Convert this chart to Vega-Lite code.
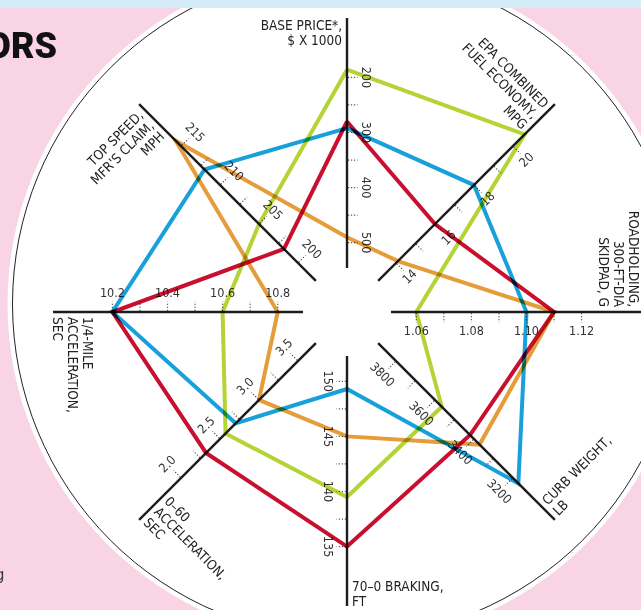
{
  "$schema": "https://vega.github.io/schema/vega-lite/v6.json",
  "width": 641,
  "height": 610,
  "autosize": "none",
  "padding": 0,
  "background": "#F8D4E4",
  "config": {"view": {"stroke": null}},
  "datasets": {
    "axes": [
      {"axis": "price", "idx": 0, "a": 500, "b": 200, "title": "BASE PRICE*,\n$ X 1000"},
      {"axis": "mpg", "idx": 1, "a": 14, "b": 20, "title": "EPA COMBINED\nFUEL ECONOMY,\nMPG"},
      {"axis": "skidpad", "idx": 2, "a": 1.06, "b": 1.12, "title": "ROADHOLDING,\n300-FT-DIA\nSKIDPAD, G"},
      {"axis": "weight", "idx": 3, "a": 3800, "b": 3200, "title": "CURB WEIGHT,\nLB"},
      {"axis": "braking", "idx": 4, "a": 150, "b": 135, "title": "70–0 BRAKING,\nFT"},
      {"axis": "zero60", "idx": 5, "a": 3.5, "b": 2.0, "title": "0–60\nACCELERATION,\nSEC"},
      {"axis": "quarter", "idx": 6, "a": 10.8, "b": 10.2, "title": "1/4-MILE\nACCELERATION,\nSEC"},
      {"axis": "topspeed", "idx": 7, "a": 200, "b": 215, "title": "TOP SPEED,\nMFR'S CLAIM,\nMPH"}
    ],
    "ticks": [
      {"axis": "price", "v": 500, "label": "500"}, {"axis": "price", "v": 450, "label": ""}, {"axis": "price", "v": 400, "label": "400"}, {"axis": "price", "v": 350, "label": ""}, {"axis": "price", "v": 300, "label": "300"}, {"axis": "price", "v": 250, "label": ""}, {"axis": "price", "v": 200, "label": "200"},
      {"axis": "mpg", "v": 14, "label": "14"}, {"axis": "mpg", "v": 15, "label": ""}, {"axis": "mpg", "v": 16, "label": "16"}, {"axis": "mpg", "v": 17, "label": ""}, {"axis": "mpg", "v": 18, "label": "18"}, {"axis": "mpg", "v": 19, "label": ""}, {"axis": "mpg", "v": 20, "label": "20"},
      {"axis": "skidpad", "v": 1.06, "label": "1.06"}, {"axis": "skidpad", "v": 1.07, "label": ""}, {"axis": "skidpad", "v": 1.08, "label": "1.08"}, {"axis": "skidpad", "v": 1.09, "label": ""}, {"axis": "skidpad", "v": 1.10, "label": "1.10"}, {"axis": "skidpad", "v": 1.11, "label": ""}, {"axis": "skidpad", "v": 1.12, "label": "1.12"},
      {"axis": "weight", "v": 3800, "label": "3800"}, {"axis": "weight", "v": 3700, "label": ""}, {"axis": "weight", "v": 3600, "label": "3600"}, {"axis": "weight", "v": 3500, "label": ""}, {"axis": "weight", "v": 3400, "label": "3400"}, {"axis": "weight", "v": 3300, "label": ""}, {"axis": "weight", "v": 3200, "label": "3200"},
      {"axis": "braking", "v": 150, "label": "150"}, {"axis": "braking", "v": 147.5, "label": ""}, {"axis": "braking", "v": 145, "label": "145"}, {"axis": "braking", "v": 142.5, "label": ""}, {"axis": "braking", "v": 140, "label": "140"}, {"axis": "braking", "v": 137.5, "label": ""}, {"axis": "braking", "v": 135, "label": "135"},
      {"axis": "zero60", "v": 3.5, "label": "3.5"}, {"axis": "zero60", "v": 3.25, "label": ""}, {"axis": "zero60", "v": 3.0, "label": "3.0"}, {"axis": "zero60", "v": 2.75, "label": ""}, {"axis": "zero60", "v": 2.5, "label": "2.5"}, {"axis": "zero60", "v": 2.25, "label": ""}, {"axis": "zero60", "v": 2.0, "label": "2.0"},
      {"axis": "quarter", "v": 10.8, "label": "10.8"}, {"axis": "quarter", "v": 10.7, "label": ""}, {"axis": "quarter", "v": 10.6, "label": "10.6"}, {"axis": "quarter", "v": 10.5, "label": ""}, {"axis": "quarter", "v": 10.4, "label": "10.4"}, {"axis": "quarter", "v": 10.3, "label": ""}, {"axis": "quarter", "v": 10.2, "label": "10.2"},
      {"axis": "topspeed", "v": 200, "label": "200"}, {"axis": "topspeed", "v": 202.5, "label": ""}, {"axis": "topspeed", "v": 205, "label": "205"}, {"axis": "topspeed", "v": 207.5, "label": ""}, {"axis": "topspeed", "v": 210, "label": "210"}, {"axis": "topspeed", "v": 212.5, "label": ""}, {"axis": "topspeed", "v": 215, "label": "215"}
    ],
    "cars": [
      {"car": "Car A", "axis": "price", "value": 186}, {"car": "Car A", "axis": "mpg", "value": 20.6}, {"car": "Car A", "axis": "skidpad", "value": 1.06}, {"car": "Car A", "axis": "weight", "value": 3565}, {"car": "Car A", "axis": "braking", "value": 139.5}, {"car": "Car A", "axis": "zero60", "value": 2.57}, {"car": "Car A", "axis": "quarter", "value": 10.6}, {"car": "Car A", "axis": "topspeed", "value": 205},
      {"car": "Car B", "axis": "price", "value": 292}, {"car": "Car B", "axis": "mpg", "value": 18.0}, {"car": "Car B", "axis": "skidpad", "value": 1.10}, {"car": "Car B", "axis": "weight", "value": 3172}, {"car": "Car B", "axis": "braking", "value": 149.3}, {"car": "Car B", "axis": "zero60", "value": 2.70}, {"car": "Car B", "axis": "quarter", "value": 10.2}, {"car": "Car B", "axis": "topspeed", "value": 212},
      {"car": "Car C", "axis": "price", "value": 490}, {"car": "Car C", "axis": "mpg", "value": 14.1}, {"car": "Car C", "axis": "skidpad", "value": 1.11}, {"car": "Car C", "axis": "weight", "value": 3371}, {"car": "Car C", "axis": "braking", "value": 145}, {"car": "Car C", "axis": "zero60", "value": 3.0}, {"car": "Car C", "axis": "quarter", "value": 10.8}, {"car": "Car C", "axis": "topspeed", "value": 215.7},
      {"car": "Car D", "axis": "price", "value": 280}, {"car": "Car D", "axis": "mpg", "value": 16.0}, {"car": "Car D", "axis": "skidpad", "value": 1.11}, {"car": "Car D", "axis": "weight", "value": 3420}, {"car": "Car D", "axis": "braking", "value": 135}, {"car": "Car D", "axis": "zero60", "value": 2.32}, {"car": "Car D", "axis": "quarter", "value": 10.2}, {"car": "Car D", "axis": "topspeed", "value": 201.8}
    ]
  },
  "layer": [
    {
      "data": {"values": [{}]},
      "mark": {"type": "point", "shape": "circle", "filled": true, "color": "white", "opacity": 1, "size": 459684},
      "encoding": {
        "x": {"datum": -0.0017, "type": "quantitative", "scale": {"domain": [-1.18027, 1.0], "nice": false, "zero": false}, "axis": null},
        "y": {"datum": 0.0272, "type": "quantitative", "scale": {"domain": [-1.01361, 1.06122], "nice": false, "zero": false}, "axis": null}
      }
    },
    {
      "data": {"values": [{}]},
      "mark": {"type": "point", "shape": "circle", "filled": false, "stroke": "#222222", "strokeWidth": 1, "opacity": 1, "size": 446224},
      "encoding": {
        "x": {"datum": -0.0017, "type": "quantitative", "scale": {"domain": [-1.18027, 1.0], "nice": false, "zero": false}, "axis": null},
        "y": {"datum": 0.0272, "type": "quantitative", "scale": {"domain": [-1.01361, 1.06122], "nice": false, "zero": false}, "axis": null}
      }
    },
    {
      "data": {"name": "axes"},
      "transform": [
        {"calculate": "datum.idx*PI/4", "as": "th"},
        {"calculate": "0.1497*sin(datum.th)", "as": "x"},
        {"calculate": "0.1497*cos(datum.th)", "as": "y"},
        {"calculate": "sin(datum.th)", "as": "xe"},
        {"calculate": "cos(datum.th)", "as": "ye"}
      ],
      "mark": {"type": "rule", "color": "#1c1c1c", "strokeWidth": 2.4},
      "encoding": {
        "x": {"field": "x", "type": "quantitative", "scale": {"domain": [-1.18027, 1.0], "nice": false, "zero": false}, "axis": null},
        "y": {"field": "y", "type": "quantitative", "scale": {"domain": [-1.01361, 1.06122], "nice": false, "zero": false}, "axis": null},
        "x2": {"field": "xe"},
        "y2": {"field": "ye"}
      }
    },
    {
      "data": {"name": "ticks"},
      "transform": [
        {"lookup": "axis", "from": {"data": {"name": "axes"}, "key": "axis", "fields": ["idx", "a", "b"]}},
        {"calculate": "0.2357 + 0.5622*(datum.v - datum.a)/(datum.b - datum.a)", "as": "r"},
        {"calculate": "datum.idx*PI/4", "as": "th"},
        {"calculate": "datum.r*sin(datum.th) + 0.004*cos(datum.th)", "as": "x"},
        {"calculate": "datum.r*cos(datum.th) - 0.004*sin(datum.th)", "as": "y"},
        {"calculate": "datum.r*sin(datum.th) + 0.036*cos(datum.th)", "as": "xe"},
        {"calculate": "datum.r*cos(datum.th) - 0.036*sin(datum.th)", "as": "ye"}
      ],
      "mark": {"type": "rule", "color": "#333333", "strokeWidth": 1.2, "strokeDash": [1, 2]},
      "encoding": {
        "x": {"field": "x", "type": "quantitative", "scale": {"domain": [-1.18027, 1.0], "nice": false, "zero": false}, "axis": null},
        "y": {"field": "y", "type": "quantitative", "scale": {"domain": [-1.01361, 1.06122], "nice": false, "zero": false}, "axis": null},
        "x2": {"field": "xe"},
        "y2": {"field": "ye"}
      }
    },
    {
      "data": {"name": "ticks"},
      "transform": [
        {"filter": "datum.label != ''"},
        {"lookup": "axis", "from": {"data": {"name": "axes"}, "key": "axis", "fields": ["idx", "a", "b"]}},
        {"calculate": "0.2357 + 0.5622*(datum.v - datum.a)/(datum.b - datum.a)", "as": "r"},
        {"calculate": "datum.idx*PI/4", "as": "th"},
        {"calculate": "datum.r*sin(datum.th) + 0.0660*cos(datum.th)", "as": "x"},
        {"calculate": "datum.r*cos(datum.th) - 0.0660*sin(datum.th)", "as": "y"},
        {"calculate": "datum.idx*45 + 90", "as": "la"},
        {"calculate": "(datum.la > 90 && datum.la <= 270) ? datum.la - 180 : datum.la", "as": "ang"}
      ],
      "mark": {"type": "text", "align": "center", "baseline": "middle", "fontSize": 12.5, "font": "DejaVu Sans Condensed, sans-serif", "color": "#333333"},
      "encoding": {
        "x": {"field": "x", "type": "quantitative", "scale": {"domain": [-1.18027, 1.0], "nice": false, "zero": false}, "axis": null},
        "y": {"field": "y", "type": "quantitative", "scale": {"domain": [-1.01361, 1.06122], "nice": false, "zero": false}, "axis": null},
        "text": {"field": "label"},
        "angle": {"field": "ang", "type": "quantitative", "scale": null}
      }
    },
    {
      "data": {"name": "axes"},
      "transform": [
        {"filter": "datum.idx == 7 || datum.idx <= 2"},
        {"calculate": "datum.idx*PI/4", "as": "th"},
        {"calculate": "sin(datum.th)", "as": "x"},
        {"calculate": "cos(datum.th)", "as": "y"},
        {"calculate": "(datum.idx*45) % 180 > 90 ? (datum.idx*45) % 180 - 180 : (datum.idx*45) % 180", "as": "ang"}
      ],
      "mark": {"type": "text", "align": "right", "baseline": "top", "dx": -5, "dy": 1, "lineBreak": "\n", "lineHeight": 15, "fontSize": 13.5, "font": "DejaVu Sans Condensed, sans-serif", "color": "#222222"},
      "encoding": {
        "x": {"field": "x", "type": "quantitative", "scale": {"domain": [-1.18027, 1.0], "nice": false, "zero": false}, "axis": null},
        "y": {"field": "y", "type": "quantitative", "scale": {"domain": [-1.01361, 1.06122], "nice": false, "zero": false}, "axis": null},
        "text": {"field": "title"},
        "angle": {"field": "ang", "type": "quantitative", "scale": null}
      }
    },
    {
      "data": {"name": "axes"},
      "transform": [
        {"filter": "datum.idx >= 3 && datum.idx <= 6"},
        {"calculate": "datum.idx*PI/4", "as": "th"},
        {"calculate": "1 - (length(split(datum.title, '\\n')) - 1)*15/294", "as": "r"},
        {"calculate": "datum.r*sin(datum.th)", "as": "x"},
        {"calculate": "datum.r*cos(datum.th)", "as": "y"},
        {"calculate": "(datum.idx*45) % 180 > 90 ? (datum.idx*45) % 180 - 180 : (datum.idx*45) % 180", "as": "ang"}
      ],
      "mark": {"type": "text", "align": "left", "baseline": "bottom", "dx": 5, "dy": 3, "lineBreak": "\n", "lineHeight": 15, "fontSize": 13.5, "font": "DejaVu Sans Condensed, sans-serif", "color": "#222222"},
      "encoding": {
        "x": {"field": "x", "type": "quantitative", "scale": {"domain": [-1.18027, 1.0], "nice": false, "zero": false}, "axis": null},
        "y": {"field": "y", "type": "quantitative", "scale": {"domain": [-1.01361, 1.06122], "nice": false, "zero": false}, "axis": null},
        "text": {"field": "title"},
        "angle": {"field": "ang", "type": "quantitative", "scale": null}
      }
    },
    {
      "data": {"name": "cars"},
      "transform": [
        {"lookup": "axis", "from": {"data": {"name": "axes"}, "key": "axis", "fields": ["idx", "a", "b"]}},
        {"calculate": "datum.idx == 0 ? [0, 8] : [datum.idx]", "as": "k"},
        {"flatten": ["k"]},
        {"calculate": "0.2357 + 0.5622*(datum.value - datum.a)/(datum.b - datum.a)", "as": "r"},
        {"calculate": "datum.k*PI/4", "as": "th"},
        {"calculate": "datum.r*sin(datum.th)", "as": "x"},
        {"calculate": "datum.r*cos(datum.th)", "as": "y"}
      ],
      "mark": {"type": "line", "strokeWidth": 4, "blend": "multiply", "strokeJoin": "miter", "strokeMiterLimit": 10},
      "encoding": {
        "x": {"field": "x", "type": "quantitative", "scale": {"domain": [-1.18027, 1.0], "nice": false, "zero": false}, "axis": null},
        "y": {"field": "y", "type": "quantitative", "scale": {"domain": [-1.01361, 1.06122], "nice": false, "zero": false}, "axis": null},
        "color": {"field": "car", "type": "nominal", "scale": {"domain": ["Car A", "Car B", "Car C", "Car D"], "range": ["#B4D335", "#18A0DB", "#E59C3A", "#C8102E"]}, "legend": null},
        "order": {"field": "k", "type": "quantitative"}
      }
    },
    {
      "data": {"values": [{}]},
      "mark": {"type": "rect", "color": "#D3ECF8"},
      "encoding": {
        "x": {"datum": -1.18027, "type": "quantitative", "scale": {"domain": [-1.18027, 1.0], "nice": false, "zero": false}, "axis": null},
        "x2": {"datum": 1.0},
        "y": {"datum": 1.06122, "type": "quantitative", "scale": {"domain": [-1.01361, 1.06122], "nice": false, "zero": false}, "axis": null},
        "y2": {"datum": 1.0340}
      }
    },
    {
      "data": {"values": [{}]},
      "mark": {"type": "text", "text": "ORS", "align": "right", "baseline": "alphabetic", "fontSize": 36, "fontWeight": 900, "font": "Roboto, sans-serif", "color": "#111111"},
      "encoding": {
        "x": {"datum": -0.9864, "type": "quantitative", "scale": {"domain": [-1.18027, 1.0], "nice": false, "zero": false}, "axis": null},
        "y": {"datum": 0.8639, "type": "quantitative", "scale": {"domain": [-1.01361, 1.06122], "nice": false, "zero": false}, "axis": null}
      }
    },
    {
      "data": {"values": [{}]},
      "mark": {"type": "text", "text": "g", "align": "right", "baseline": "alphabetic", "fontSize": 16, "font": "DejaVu Sans Condensed, sans-serif", "color": "#333333"},
      "encoding": {
        "x": {"datum": -1.1650, "type": "quantitative", "scale": {"domain": [-1.18027, 1.0], "nice": false, "zero": false}, "axis": null},
        "y": {"datum": -0.9116, "type": "quantitative", "scale": {"domain": [-1.01361, 1.06122], "nice": false, "zero": false}, "axis": null}
      }
    }
  ]
}
